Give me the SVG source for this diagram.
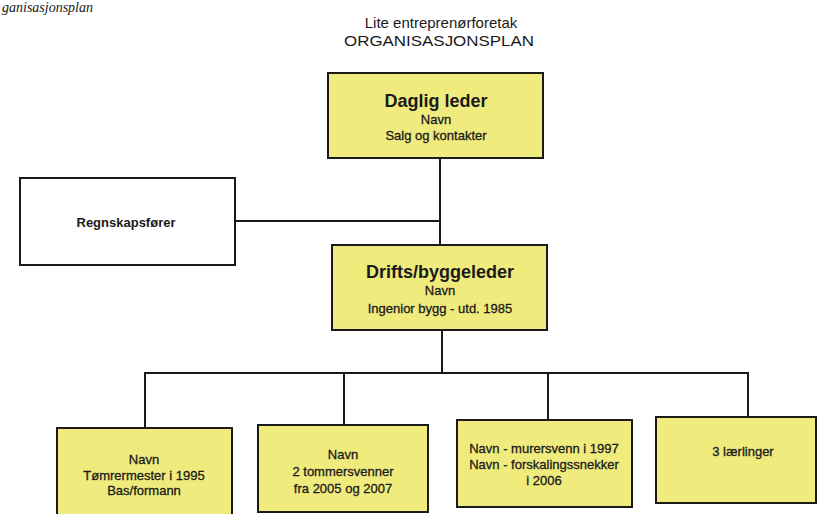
<svg xmlns="http://www.w3.org/2000/svg" width="826" height="514" viewBox="0 0 826 514">
<style>
.box{fill:#efeb7d;stroke:#1a1a1a;stroke-width:2}
.wbox{fill:#ffffff;stroke:#1a1a1a;stroke-width:2}
.t{font-family:"Liberation Sans",Arial,sans-serif;fill:#1a1a1a;text-anchor:middle}
.h{font-size:18px;font-weight:bold}
.s{font-size:13px;stroke:#1a1a1a;stroke-width:0.3}
.sb{font-size:13px;font-weight:bold}
.title{font-size:15px}
.cut{font-family:"Liberation Serif",serif;font-style:italic;font-size:14px;fill:#1a1a1a}
.ln{stroke:#1a1a1a;stroke-width:2;fill:none}
</style>
<rect width="826" height="514" fill="#ffffff"/>
<text class="cut" x="2" y="12">ganisasjonsplan</text>
<g id="title">
<text class="t title" x="441" y="28">Lite entreprenørforetak</text>
<text class="t title" x="439" y="46" textLength="190" lengthAdjust="spacingAndGlyphs">ORGANISASJONSPLAN</text>
</g>
<g id="connectors">
<path class="ln" d="M440,158 V246"/>
<path class="ln" d="M235,221 H440"/>
<path class="ln" d="M442,330 V373"/>
<path class="ln" d="M145,428 V373 H748 V417"/>
<path class="ln" d="M344,373 V425"/>
<path class="ln" d="M548,373 V420"/>
</g>
<g id="daglig-leder">
<rect class="box" x="328" y="73" width="215" height="85"/>
<text class="t h" x="436" y="107">Daglig leder</text>
<text class="t s" x="436" y="124">Navn</text>
<text class="t s" x="436" y="140">Salg og kontakter</text>
</g>
<g id="regnskapsforer">
<rect class="wbox" x="20" y="178" width="215" height="87"/>
<text class="t sb" x="126" y="227">Regnskapsfører</text>
</g>
<g id="driftsleder">
<rect class="box" x="332" y="245" width="215" height="85"/>
<text class="t h" x="440" y="278">Drifts/byggeleder</text>
<text class="t s" x="440" y="295">Navn</text>
<text class="t s" x="440" y="313">Ingenior bygg - utd. 1985</text>
</g>
<g id="tomrermester">
<rect class="box" x="57" y="428" width="175" height="95"/>
<text class="t s" x="144" y="464">Navn</text>
<text class="t s" x="144" y="480">Tømrermester i 1995</text>
<text class="t s" x="144" y="495">Bas/formann</text>
</g>
<g id="tommersvenner">
<rect class="box" x="258" y="425" width="170" height="87"/>
<text class="t s" x="343" y="459">Navn</text>
<text class="t s" x="343" y="476">2 tommersvenner</text>
<text class="t s" x="343" y="493">fra 2005 og 2007</text>
</g>
<g id="murersvenn">
<rect class="box" x="457" y="420" width="175" height="87"/>
<text class="t s" x="544" y="453">Navn - murersvenn i 1997</text>
<text class="t s" x="544" y="469">Navn - forskalingssnekker</text>
<text class="t s" x="544" y="485">i 2006</text>
</g>
<g id="laerlinger">
<rect class="box" x="656" y="417" width="160" height="86"/>
<text class="t s" x="743" y="456">3 lærlinger</text>
</g>
</svg>
